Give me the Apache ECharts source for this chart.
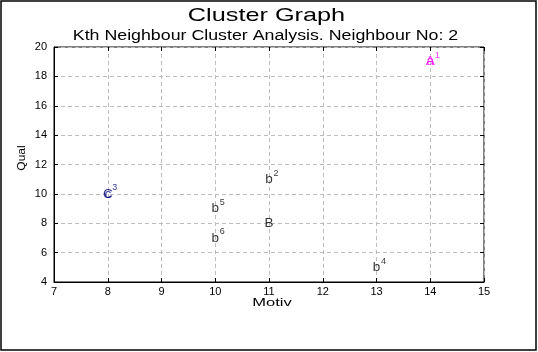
<!DOCTYPE html>
<html><head><meta charset="utf-8">
<script src="https://cdn.jsdelivr.net/npm/echarts@6/dist/echarts.min.js"></script>
<style>html,body{margin:0;padding:0;background:#fff}#c{width:538px;height:352px}</style>
</head><body><div id="c"></div>
<script>
var caseLetters = ['a','b','c','b','b','b'];
var caseNumbers = ['1','2','3','4','5','6'];
var motiv = [14,11,8,13,10,10];
var qual = [19,11,10,5,9,7];
var centerLetters = ['A','B','C'];
var centerMotiv = [14,11,8];
var centerQual = [19,8,10];
var clusterColors = {a:'#ff00ff', b:'#000000', c:'#000080', A:'#ff00ff', B:'#000000', C:'#000080'};
var xTicks = [7,8,9,10,11,12,13,14,15];
var yTicks = [4,6,8,10,12,14,16,18,20];

var font = 'Liberation Sans, Arial, sans-serif';
var caseData = motiv.map(function(m,i){return {value:[m,qual[i]], name:caseLetters[i], num:caseNumbers[i], label:{color:clusterColors[caseLetters[i]]}};});
var centerData = centerMotiv.map(function(m,i){return {value:[m,centerQual[i]], name:centerLetters[i], label:{color:clusterColors[centerLetters[i]]}};});

function letterSeries(data){
  return {type:'scatter', symbolSize:0, data:data, silent:true,
    label:{show:true, position:'inside', fontFamily:font, fontSize:13.5,
      formatter:function(p){return p.data.name;}},
    labelLayout:{hideOverlap:false}
  };
}
var s1 = letterSeries(caseData);
var s2 = letterSeries(centerData);
var s3 = {type:'scatter', symbolSize:0, silent:true, data: caseData,
  label:{show:true, position:'inside', offset:[7,-6], fontFamily:font, fontSize:9,
    formatter:function(p){return p.data.num;}}
};

var chart = echarts.init(document.getElementById('c'), null, {renderer:'canvas'});
chart.setOption({
  backgroundColor:'#fff',
  animation:false,
  graphic:[
    {type:'rect', shape:{x:1, y:1, width:535, height:349}, style:{fill:'none', stroke:'#000', lineWidth:1.5}, silent:true},
    {type:'text', x:266.5, y:16, scaleX:1.33, silent:true,
      style:{text:'Cluster Graph', font:'19px '+font, fill:'#000', textAlign:'center', textVerticalAlign:'middle'}},
    {type:'text', x:265.5, y:36, scaleX:1.27, silent:true,
      style:{text:'Kth Neighbour Cluster Analysis. Neighbour No: 2', font:'14px '+font, fill:'#000', textAlign:'center', textVerticalAlign:'middle'}},
    {type:'text', x:272, y:303.5, scaleX:1.65, silent:true,
      style:{text:'Motiv', font:'10px '+font, fill:'#000', textAlign:'center', textVerticalAlign:'middle'}},
    {type:'text', x:22, y:158, rotation:Math.PI/2, scaleX:1.2, silent:true,
      style:{text:'Qual', font:'10px '+font, fill:'#000', textAlign:'center', textVerticalAlign:'middle'}}
  ],
  grid:{left:54, right:54, top:47, bottom:70, show:true, borderColor:'#000', borderWidth:1},
  xAxis:[{type:'value', min:xTicks[0], max:xTicks[xTicks.length-1], interval:1,
    axisLine:{show:true, lineStyle:{color:'#000'}},
    axisTick:{show:true, inside:true, length:4, lineStyle:{color:'#000'}},
    axisLabel:{fontFamily:font, fontSize:11, color:'#000', margin:4},
    splitLine:{show:true, lineStyle:{color:'#bdbdbd', type:[4,3]}}},
    {type:'value', position:'top', min:7, max:15, interval:1, axisLine:{show:false},
     axisTick:{show:true, inside:true, length:4, lineStyle:{color:'#000'}}, axisLabel:{show:false}, splitLine:{show:false}}],
  yAxis:[{type:'value', min:yTicks[0], max:yTicks[yTicks.length-1], interval:2,
    axisLine:{show:true, lineStyle:{color:'#000'}},
    axisTick:{show:true, inside:true, length:4, lineStyle:{color:'#000'}},
    axisLabel:{fontFamily:font, fontSize:11, color:'#000', margin:7},
    splitLine:{show:true, lineStyle:{color:'#bdbdbd', type:[4,3]}}},
    {type:'value', position:'right', min:4, max:20, interval:2, axisLine:{show:false},
     axisTick:{show:true, inside:true, length:4, lineStyle:{color:'#000'}}, axisLabel:{show:false}, splitLine:{show:false}}],
  series:[s1, s2, s3]
});
</script></body></html>
